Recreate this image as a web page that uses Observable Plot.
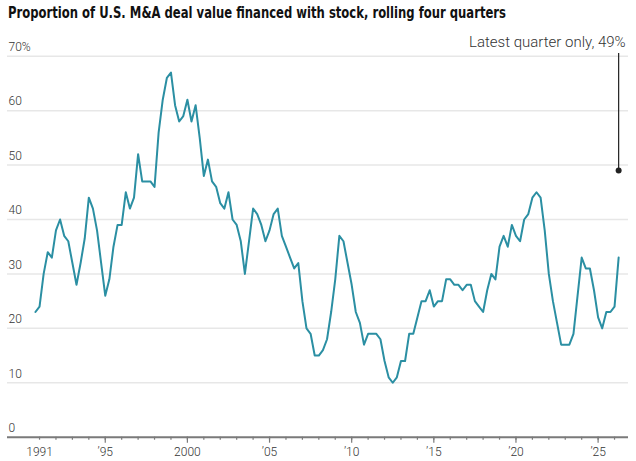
<!DOCTYPE html>
<html>
<head>
<meta charset="utf-8">
<script src="https://cdn.jsdelivr.net/npm/d3@7"></script>
<script src="https://cdn.jsdelivr.net/npm/@observablehq/plot@0.6"></script>
<style>
  html, body { margin: 0; padding: 0; background: #fff; }
  #title {
    height: 28px;
    box-sizing: border-box;
    padding: 4px 0 0 8px;
    font-family: "Liberation Sans Narrow", "DejaVu Sans Condensed", "Roboto", sans-serif;
    font-weight: 700;
    font-size: 15.5px;
    line-height: 18px;
    color: #111;
    white-space: nowrap;
  }
  #title span { display: inline-block; transform-origin: 0 50%; }
  #chart svg { display: block; overflow: visible; }
</style>
</head>
<body>
<div id="title"><span>Proportion of U.S. M&amp;A deal value financed with stock, rolling four quarters</span></div>
<div id="chart"></div>
<script>
// Share of U.S. M&A deal value paid in stock, rolling four quarters (%),
// one value per quarter starting with the third quarter of 1990.
const firstYear = 1990;
const firstQuarter = 3;
const stockShare = [
  23,                                   // 1990 Q3
  24, 30, 34, 33,                       // 1991
  38, 40, 37, 36,                       // 1992
  32, 28, 32, 36.5,                     // 1993
  44, 42, 38, 32,                       // 1994
  26, 29, 35, 39,                       // 1995
  39, 45, 42, 44,                       // 1996
  52, 47, 47, 47,                       // 1997
  46, 56, 62, 66,                       // 1998
  67, 61, 58, 59,                       // 1999
  62, 58, 61, 55,                       // 2000
  48, 51, 47, 46,                       // 2001
  43, 42, 45, 40,                       // 2002
  39, 36, 30, 36,                       // 2003
  42, 41, 39, 36,                       // 2004
  38, 41, 42, 37,                       // 2005
  35, 33, 31, 32,                       // 2006
  25, 20, 19, 15,                       // 2007
  15, 16, 18, 23,                       // 2008
  29, 37, 36, 32,                       // 2009
  28, 23, 21, 17,                       // 2010
  19, 19, 19, 18,                       // 2011
  14, 11, 10, 11,                       // 2012
  14, 14, 19, 19,                       // 2013
  22, 25, 25, 27,                       // 2014
  24, 25, 25, 29,                       // 2015
  29, 28, 28, 27,                       // 2016
  28, 28, 25, 24,                       // 2017
  23, 27, 30, 29,                       // 2018
  35, 37, 35, 39,                       // 2019
  37, 36, 40, 41,                       // 2020
  44, 45, 44, 38,                       // 2021
  30, 25, 21, 17,                       // 2022
  17, 17, 19, 26,                       // 2023
  33, 31, 31, 27,                       // 2024
  22, 20, 23, 23,                       // 2025
  24, 33                                // 2026
];

// Latest single quarter, shown as a callout
const latestQuarterShare = 49;
const latestLabel = "Latest quarter only, 49%";

// Axis ticks and labels
const yTicks = [0, 10, 20, 30, 40, 50, 60, 70];
const yTickLabels = ["0", "10", "20", "30", "40", "50", "60", "70%"];
const yearTicks = d3.range(1991, 2027);
const majorYearTicks = [1995, 2000, 2005, 2010, 2015, 2020, 2025];
const yearLabelTicks = [1991, 1995, 2000, 2005, 2010, 2015, 2020, 2025];
const yearLabels = ["1991", "\u201995", "2000", "\u201905", "\u201910", "\u201915", "\u201920", "\u201925"];

// Quarter-end positions as fractional years
const rows = stockShare.map((v, i) => ({
  t: firstYear + (firstQuarter + i) / 4,
  v
}));
const latest = rows[rows.length - 1].t;
const calloutTop = 70.5;

const tickFont = "Roboto, 'Liberation Sans', sans-serif";
const ink = "#333";
const axisGray = "#7a7a7a";

const chart = Plot.plot({
  width: 636,
  height: 433,
  marginLeft: 7,
  marginRight: 8,
  marginTop: 27.7,
  marginBottom: 24.3,
  style: {
    fontFamily: tickFont,
    fontSize: "12px",
    color: ink,
    background: "#fff"
  },
  x: { type: "linear", domain: [1989.05, 2026.85], axis: null, label: null },
  y: { domain: [0, 70], axis: null, label: null },
  marks: [
    // horizontal gridlines
    Plot.ruleY(yTicks.filter(d => d > 0), { stroke: "#e7e7e7", strokeWidth: 1.5 }),
    // y labels sit just above their gridlines at the left edge
    Plot.text(yTicks, {
      y: d => d,
      frameAnchor: "left",
      text: (d, i) => yTickLabels[i],
      textAnchor: "start",
      dx: 1,
      dy: -9,
      fill: ink,
      fontWeight: 300,
      fontSize: 12
    }),
    // baseline
    Plot.ruleY([0], { stroke: axisGray, strokeWidth: 2 }),
    // yearly minor ticks
    Plot.axisX({ ticks: yearTicks, tickSize: 3, tickFormat: () => "", label: null, stroke: axisGray, strokeWidth: 1.2 }),
    // 5-year major ticks
    Plot.axisX({ ticks: majorYearTicks, tickSize: 6, tickFormat: () => "", label: null, stroke: axisGray, strokeWidth: 1.2 }),
    // year labels
    Plot.axisX({
      ticks: yearLabelTicks,
      tickSize: 0,
      tickPadding: 10,
      tickFormat: d => yearLabels[yearLabelTicks.indexOf(d)],
      label: null,
      fill: ink,
      fontWeight: 300,
      fontSize: 12
    }),
    // rolling four-quarter share
    Plot.line(rows, { x: "t", y: "v", stroke: "#2b8fa3", strokeWidth: 2, strokeLinejoin: "round" }),
    // latest single-quarter callout
    Plot.ruleX([latest], { y1: latestQuarterShare, y2: calloutTop, stroke: "#222", strokeWidth: 1.2 }),
    Plot.dot([latest], { x: d => d, y: latestQuarterShare, r: 3, fill: "#222", stroke: "none" }),
    Plot.text([latest], {
      x: d => d,
      y: calloutTop,
      text: () => latestLabel,
      textAnchor: "end",
      dx: 7,
      dy: -11,
      fill: ink,
      fontWeight: 300,
      fontSize: 15
    })
  ]
});

document.getElementById("chart").append(chart);

// Fit the title to its line width with a horizontal squeeze
const titleSpan = document.querySelector("#title span");
const titleWidth = titleSpan.getBoundingClientRect().width;
const titleTarget = 498;
if (titleWidth > titleTarget) titleSpan.style.transform = `scaleX(${titleTarget / titleWidth})`;
</script>
</body>
</html>
